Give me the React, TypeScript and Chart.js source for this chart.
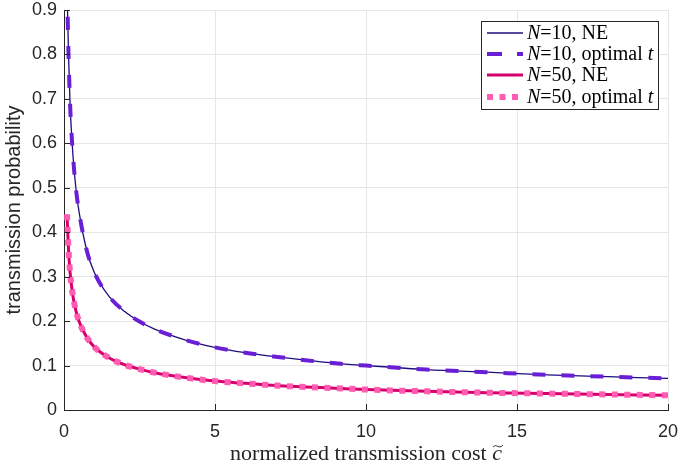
import React, { useEffect, useRef } from "react";
import { Chart, registerables } from "chart.js";

Chart.register(...registerables);

// normalized transmission cost (x)
const costs = [0.1, 0.15, 0.2, 0.3, 0.4, 0.5, 0.75, 1, 1.5, 2, 2.5, 3, 4, 5, 6, 7, 8, 9, 10, 12, 14, 16, 18, 20];
// N = 10
const n10NE = [0.95, 0.8, 0.69, 0.57, 0.495, 0.445, 0.36, 0.31, 0.255, 0.222, 0.199, 0.182, 0.158, 0.141, 0.129, 0.12, 0.112, 0.105, 0.1, 0.091, 0.085, 0.079, 0.075, 0.071];
const n10Opt = [0.95, 0.8, 0.69, 0.57, 0.495, 0.445, 0.36, 0.31, 0.255, 0.222, 0.199, 0.182, 0.158, 0.141, 0.129, 0.12, 0.112, 0.105, 0.1, 0.091, 0.085, 0.079, 0.075, 0.071];
// N = 50
const n50NE = [0.44, 0.36, 0.31, 0.255, 0.222, 0.199, 0.164, 0.142, 0.117, 0.102, 0.092, 0.084, 0.073, 0.065, 0.06, 0.055, 0.052, 0.049, 0.046, 0.042, 0.039, 0.037, 0.035, 0.033];
const n50Opt = [0.44, 0.36, 0.31, 0.255, 0.222, 0.199, 0.164, 0.142, 0.117, 0.102, 0.092, 0.084, 0.073, 0.065, 0.06, 0.055, 0.052, 0.049, 0.046, 0.042, 0.039, 0.037, 0.035, 0.033];

const xTicks = [0, 5, 10, 15, 20];
const yTicks = [0, 0.1, 0.2, 0.3, 0.4, 0.5, 0.6, 0.7, 0.8, 0.9];

const C_N10NE = "#1e0c80";
const C_N10OPT = "#6a1fd6";
const C_N50NE = "#d6006c";
const C_N50OPT = "#ff5cb2";

const AXIS = "#262626";
const SERIF = "'Liberation Serif', 'DejaVu Serif', serif";
const SANS = "'Liberation Sans', Arial, sans-serif";

const legendItems = [
  { color: C_N10NE, width: 1.3, dash: [] as number[], parts: [["N", true], ["=10, NE", false]] },
  { color: C_N10OPT, width: 4, dash: [15, 15], parts: [["N", true], ["=10, optimal ", false], ["t", true]] },
  { color: C_N50NE, width: 3, dash: [] as number[], parts: [["N", true], ["=50, NE", false]] },
  { color: C_N50OPT, width: 6, dash: [6, 6.5], parts: [["N", true], ["=50, optimal ", false], ["t", true]] },
];

const overlay = {
  id: "overlay",
  afterDraw(chart: any) {
    const { ctx, chartArea: a, scales } = chart;
    const x = scales.x;
    const y = scales.y;
    ctx.save();
    // inward ticks
    ctx.strokeStyle = AXIS;
    ctx.lineWidth = 1;
    ctx.beginPath();
    xTicks.forEach((v) => {
      const px = Math.round(x.getPixelForValue(v)) + 0.5;
      ctx.moveTo(px, a.bottom);
      ctx.lineTo(px, a.bottom - 6);
    });
    yTicks.forEach((v) => {
      const py = Math.round(y.getPixelForValue(v)) + 0.5;
      ctx.moveTo(a.left, py);
      ctx.lineTo(a.left + 6, py);
    });
    ctx.stroke();

    // x title
    const fs = 22;
    const normal = `${fs}px ${SERIF}`;
    const ital = `italic ${fs}px ${SERIF}`;
    ctx.fillStyle = AXIS;
    ctx.textBaseline = "alphabetic";
    ctx.textAlign = "left";
    const t1 = "normalized transmission cost ";
    ctx.font = normal;
    const w1 = ctx.measureText(t1).width;
    ctx.font = ital;
    const wc = ctx.measureText("c").width;
    const total = w1 + wc;
    const cx = (a.left + a.right) / 2;
    const baseY = 460;
    const sx = cx - total / 2;
    ctx.font = normal;
    ctx.fillText(t1, sx, baseY);
    ctx.font = ital;
    ctx.fillText("c", sx + w1, baseY);
    // wide tilde over c
    const tx0 = sx + w1 + 1;
    const tx1 = sx + w1 + wc + 1;
    const ty = baseY - 14;
    ctx.strokeStyle = AXIS;
    ctx.lineWidth = 1;
    ctx.beginPath();
    ctx.moveTo(tx0, ty + 1);
    ctx.bezierCurveTo(tx0 + (tx1 - tx0) * 0.3, ty - 3, tx0 + (tx1 - tx0) * 0.6, ty + 4, tx1, ty - 1);
    ctx.stroke();

    // legend box
    const bx = 481, by = 21, bw = 177, bh = 88;
    ctx.fillStyle = "#ffffff";
    ctx.fillRect(bx, by, bw, bh);
    ctx.strokeStyle = "#262626";
    ctx.lineWidth = 1;
    ctx.strokeRect(bx + 0.5, by + 0.5, bw, bh);
    const rows = [33, 54, 75, 97];
    const lfs = 20;
    legendItems.forEach((it, i) => {
      const ry = rows[i];
      ctx.save();
      ctx.strokeStyle = it.color;
      ctx.lineWidth = it.width;
      ctx.lineCap = "butt";
      ctx.setLineDash(it.dash);
      ctx.beginPath();
      ctx.moveTo(487, ry);
      ctx.lineTo(523, ry);
      ctx.stroke();
      ctx.restore();
      let tx = 527;
      ctx.fillStyle = "#000000";
      ctx.textAlign = "left";
      ctx.textBaseline = "middle";
      (it.parts as any[]).forEach(([s, isItal]) => {
        ctx.font = `${isItal ? "italic " : ""}${lfs}px ${SERIF}`;
        ctx.fillText(s, tx, ry + 1);
        tx += ctx.measureText(s).width;
      });
    });
    ctx.restore();
  },
};

function pts(vals: number[]) {
  return costs.map((c, i) => ({ x: c, y: vals[i] }));
}

export default function App() {
  const ref = useRef<HTMLCanvasElement>(null);
  useEffect(() => {
    if (!ref.current) return;
    const chart = new Chart(ref.current, {
      type: "line",
      data: {
        datasets: [
          {
            label: "N=10, NE",
            data: pts(n10NE),
            borderColor: C_N10NE,
            borderWidth: 1.3,
            pointRadius: 0,
            cubicInterpolationMode: "monotone",
            order: 4,
          },
          {
            label: "N=10, optimal t",
            data: pts(n10Opt),
            borderColor: C_N10OPT,
            borderWidth: 4,
            borderDash: [13, 16],
            pointRadius: 0,
            cubicInterpolationMode: "monotone",
            order: 3,
          },
          {
            label: "N=50, NE",
            data: pts(n50NE),
            borderColor: C_N50NE,
            borderWidth: 3,
            pointRadius: 0,
            cubicInterpolationMode: "monotone",
            order: 2,
          },
          {
            label: "N=50, optimal t",
            data: pts(n50Opt),
            borderColor: C_N50OPT,
            borderWidth: 6,
            borderDash: [6, 6.5],
            pointRadius: 0,
            cubicInterpolationMode: "monotone",
            order: 1,
          },
        ] as any,
      },
      options: {
        animation: false,
        responsive: false,
        maintainAspectRatio: false,
        layout: { padding: { top: 10, right: 10, left: 0, bottom: 0 } },
        plugins: { legend: { display: false }, tooltip: { enabled: false } },
        scales: {
          x: {
            type: "linear",
            min: 0,
            max: 20,
            afterBuildTicks: (s: any) => {
              s.ticks = xTicks.map((v) => ({ value: v }));
            },
            afterFit: (s: any) => {
              s.height = 58;
              s.paddingLeft = 0;
              s.paddingRight = 0;
            },
            grid: { color: "#e6e6e6", drawTicks: false, lineWidth: 1 },
            border: { display: true, color: AXIS, width: 1 },
            ticks: { color: AXIS, font: { family: SANS, size: 18 }, padding: 11, maxRotation: 0 },
          },
          y: {
            type: "linear",
            min: 0,
            max: 0.9,
            afterBuildTicks: (s: any) => {
              s.ticks = yTicks.map((v) => ({ value: v }));
            },
            afterFit: (s: any) => {
              s.width = 64;
              s.paddingTop = 0;
              s.paddingBottom = 0;
            },
            grid: { color: "#e6e6e6", drawTicks: false, lineWidth: 1 },
            border: { display: true, color: AXIS, width: 1 },
            ticks: {
              color: AXIS,
              font: { family: SANS, size: 18 },
              padding: 7,
              callback: (v: any) => String(+Number(v).toFixed(1)),
            },
            title: {
              display: true,
              text: "transmission probability",
              color: AXIS,
              font: { family: SANS, size: 20 },
              padding: { top: 2, bottom: 0 },
            },
          },
        },
      },
      plugins: [overlay],
    });
    return () => chart.destroy();
  }, []);
  return (
    <div style={{ position: "fixed", left: 0, top: 0, width: 678, height: 468, background: "#fff" }}>
      <canvas ref={ref} width={678} height={468} style={{ display: "block" }} />
    </div>
  );
}
